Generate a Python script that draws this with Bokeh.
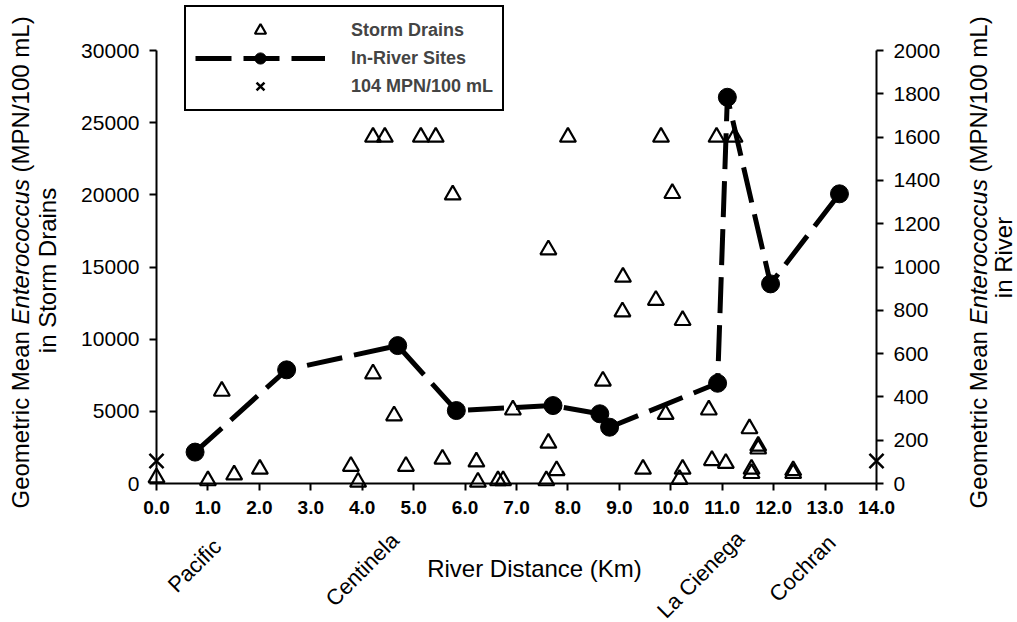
import math
from bokeh.plotting import figure
from bokeh.models import (LinearAxis, Range1d, FixedTicker, NumeralTickFormatter,
                          Label, Legend, LegendItem)
from bokeh.embed import file_html
from bokeh.resources import INLINE

# ---------------- data ----------------
drain_km = [0.0, 1.0, 1.27, 1.51, 2.01, 3.78, 3.92, 4.21, 4.21, 4.44, 4.62, 4.85,
            5.14, 5.43, 5.56, 5.76, 6.22, 6.25, 6.64, 6.74, 6.93, 7.58, 7.62, 7.62,
            7.78, 8.0, 8.68, 9.06, 9.07, 9.46, 9.71, 9.81, 9.90, 10.03, 10.17, 10.23,
            10.23, 10.74, 10.80, 10.89, 11.07, 11.24, 11.53, 11.57, 11.57, 11.70,
            11.70, 12.38, 12.38]
drain_mpn = [400, 200, 6400, 600, 1000, 1200, 100, 7600, 24000, 24000, 4700, 1200,
             24000, 24000, 1700, 20000, 1500, 100, 200, 200, 5100, 200, 16200, 2800,
             900, 24000, 7100, 11900, 14300, 1000, 12700, 24000, 4800, 20100, 300, 11300,
             1000, 5100, 1600, 24000, 1400, 24000, 3800, 1000, 700, 2600,
             2400, 900, 700]

river_km = [0.75, 2.53, 4.69, 5.83, 7.71, 8.62, 8.81, 10.91, 11.10, 11.94, 13.28]
river_mpn = [145, 525, 637, 337, 360, 322, 260, 463, 1784, 922, 1338]

threshold_km = [0.0, 14.0]
threshold_mpn = [104, 104]

x_ticks = list(range(0, 15))
left_ticks = [0, 5000, 10000, 15000, 20000, 25000, 30000]
right_ticks = [0, 200, 400, 600, 800, 1000, 1200, 1400, 1600, 1800, 2000]

site_names = ["Pacific", "Centinela", "La Cienega", "Cochran"]
site_km = [0.74, 4.0, 10.58, 12.56]

legend_labels = ["Storm Drains", "In-River Sites", "104 MPN/100 mL"]

# ---------------- layout (frame = whole canvas) ----------------
W, H = 1017, 622
X0, X14 = 156, 876          # canvas px of 0 km and 14 km
Y0, YTOP = 483, 50          # canvas px of 0 and 30000 (left axis)
KX = (X14 - X0) / 14.0
KY = (Y0 - YTOP) / 30000.0
XR = (-X0 / KX, (W - X0) / KX)
YR = (-(H - Y0) / KY, 30000 + YTOP / KY)
YR2 = (YR[0] / 15.0, YR[1] / 15.0)

FONT = "Liberation Sans"


def sx_to_km(sx):
    return (sx - X0) / KX


def sy_to_left(sy):
    return (Y0 - sy) / KY


p = figure(width=W, height=H, output_backend="svg", toolbar_location=None,
           x_range=Range1d(*XR), y_range=Range1d(*YR),
           x_axis_location=None, y_axis_location=None, min_border=0)
p.outline_line_color = None
p.xgrid.visible = False
p.ygrid.visible = False
p.background_fill_color = "white"
p.border_fill_color = "white"
p.extra_y_ranges = {"river": Range1d(*YR2)}


def style_axis(ax, size, bold=False):
    ax.axis_line_width = 2
    ax.axis_line_color = "black"
    ax.major_tick_line_width = 2
    ax.major_tick_line_color = "black"
    ax.major_tick_out = 7
    ax.major_tick_in = 0
    ax.minor_tick_out = 0
    ax.minor_tick_in = 0
    ax.major_label_text_font = FONT
    ax.major_label_text_font_size = size
    ax.major_label_text_color = "black"
    ax.major_label_text_font_style = "bold" if bold else "normal"
    ax.major_label_standoff = 10


xaxis = LinearAxis(ticker=FixedTicker(ticks=x_ticks),
                   formatter=NumeralTickFormatter(format="0.0"),
                   fixed_location=0, bounds=(0, 14))
style_axis(xaxis, "19px", bold=True)
p.add_layout(xaxis, "below")

laxis = LinearAxis(ticker=FixedTicker(ticks=left_ticks),
                   formatter=NumeralTickFormatter(format="0"),
                   fixed_location=0, bounds=(0, 30000))
style_axis(laxis, "21px")
p.add_layout(laxis, "left")

raxis = LinearAxis(y_range_name="river", ticker=FixedTicker(ticks=right_ticks),
                   formatter=NumeralTickFormatter(format="0"),
                   fixed_location=14, bounds=(0, 2000))
style_axis(raxis, "21px")
p.add_layout(raxis, "right")

# ---------------- glyphs ----------------
line_r = p.line(river_km, river_mpn, y_range_name="river", line_color="black",
                line_width=5, line_dash="36 12")
circ_r = p.scatter(river_km, river_mpn, y_range_name="river", marker="circle",
                   size=18, fill_color="black", line_color="black")
tri_r = p.scatter(drain_km, drain_mpn, marker="triangle", size=16, fill_color=None,
                  line_color="black", line_width=2.2)
x_r = p.scatter(threshold_km, threshold_mpn, y_range_name="river", marker="x",
                size=20, line_color="black", line_width=2.5)

legend = Legend(items=[LegendItem(label=legend_labels[0], renderers=[tri_r]),
                       LegendItem(label=legend_labels[1], renderers=[line_r, circ_r]),
                       LegendItem(label=legend_labels[2], renderers=[x_r])],
                location=(184, H - 111), orientation="vertical",
                glyph_width=130, glyph_height=28, label_height=28,
                label_standoff=26, padding=9, spacing=0, margin=0,
                label_text_font=FONT, label_text_font_size="18px",
                label_text_font_style="bold",
                border_line_color="black", border_line_width=2, border_line_alpha=1.0,
                background_fill_color="white", background_fill_alpha=1.0)
p.add_layout(legend, "center")

# ---------------- texts ----------------
TS = 24
def lab(text, sx, sy, angle=0.0, align="left", baseline="middle", size=TS, style="normal"):
    p.add_layout(Label(x=sx_to_km(sx), y=sy_to_left(sy), x_units="data", y_units="data",
                       text=text, angle=angle, text_align=align, text_baseline=baseline,
                       text_font=FONT, text_font_size=f"{size}px", text_font_style=style,
                       text_color="black"))

# rotated titles (italic genus name)
w1 = 7.669 * TS   # "Geometric Mean "
w2 = 6.336 * TS   # "Enterococcus "
for cx in (20, 978):
    lab("Geometric Mean", cx, 508, angle=math.pi / 2)
    lab("Enterococcus", cx, 508 - w1, angle=math.pi / 2, style="italic")
    lab("(MPN/100 mL)", cx, 508 - w1 - w2, angle=math.pi / 2)
lab("in Storm Drains", 47, 270, angle=math.pi / 2, align="center")
lab("in River", 1003, 257, angle=math.pi / 2, align="center")

lab("River Distance (Km)", 534, 568, align="center")

site_sy = [565, 569, 574, 568]
for name, km, sy in zip(site_names, site_km, site_sy):
    p.add_layout(Label(x=km, y=sy_to_left(sy), x_units="data", y_units="data",
                       text=name, angle=math.pi / 4, text_align="center",
                       text_baseline="middle", text_font=FONT, text_font_size="22px",
                       text_color="black"))

open("out.html", "w").write(file_html(p, INLINE))
